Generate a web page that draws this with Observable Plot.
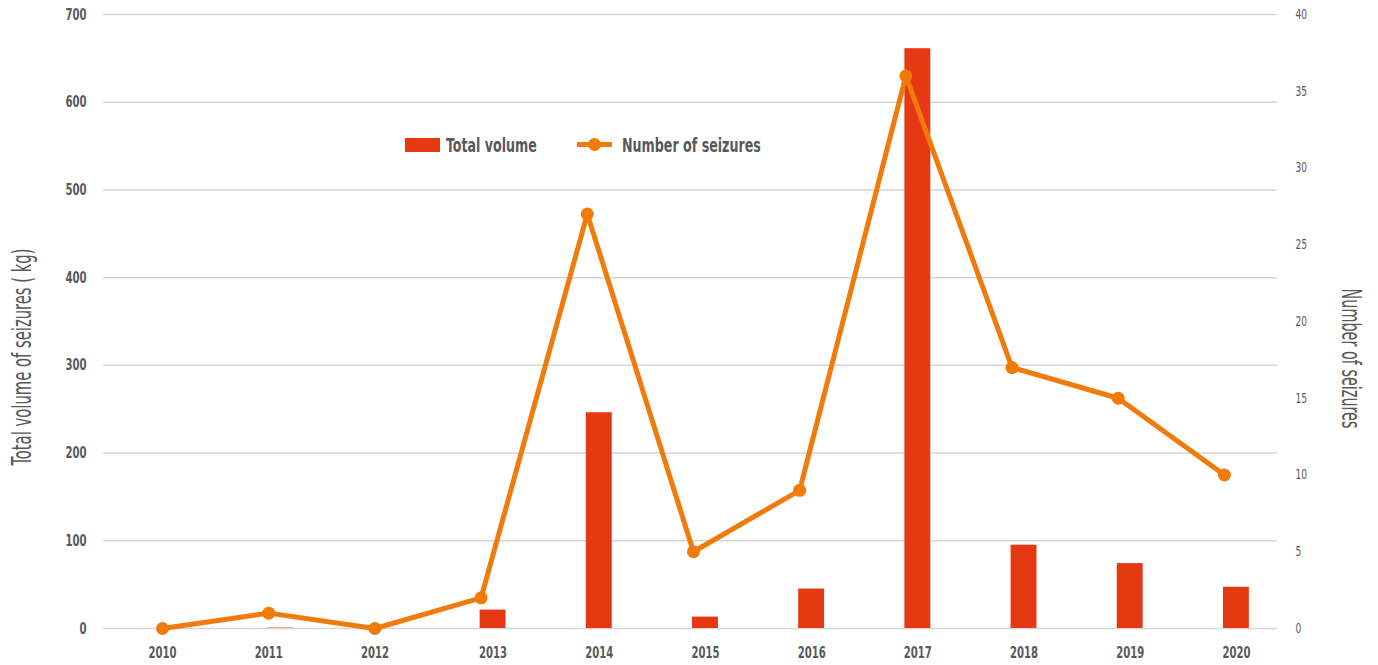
<!DOCTYPE html>
<html>
<head>
<meta charset="utf-8">
<script src="https://cdn.jsdelivr.net/npm/d3@7"></script>
<script src="https://cdn.jsdelivr.net/npm/@observablehq/plot@0.6"></script>
<style>
  html, body { margin: 0; padding: 0; background: #fff; }
  #wrap { position: relative; width: 1378px; height: 665px; }
  .legend { position: absolute; top: 0; left: 0; font-family: "DejaVu Sans Condensed", "DejaVu Sans", sans-serif;
    font-stretch: condensed; font-size: 19px; font-weight: bold; color: #595959; }
  .legend .lbl { position: absolute; top: 134px; white-space: nowrap; transform-origin: 0 50%; transform: scaleX(0.74); }
  .legend .sw-bar { position: absolute; left: 405px; top: 138px; width: 35px; height: 14px; background: #e63812; }
  .legend .sw-line { position: absolute; left: 577px; top: 142px; width: 35px; height: 5px; background: #f07a0a; }
  .legend .sw-dot { position: absolute; left: 588px; top: 138px; width: 13px; height: 13px; border-radius: 50%; background: #f07a0a; }
</style>
</head>
<body>
<div id="wrap"></div>
<script>
const years = [2010, 2011, 2012, 2013, 2014, 2015, 2016, 2017, 2018, 2019, 2020];
const volumeKg = [0, 0.5, 0, 21, 246, 13, 45, 661, 95, 74, 47];
const seizures = [0, 1, 0, 2, 27, 5, 9, 36, 17, 15, 10];
const leftTicks = [0, 100, 200, 300, 400, 500, 600, 700];
const rightTicks = [0, 5, 10, 15, 20, 25, 30, 35, 40];
const leftTitle = "Total volume of seizures ( kg)";
const rightTitle = "Number of seizures";
const legendLabels = ["Total volume", "Number of seizures"];

const leftMax = 700, rightMax = 40;
const k = leftMax / rightMax;
const barColor = "#e63812";
const lineColor = "#f07a0a";
const textColor = "#595959";
const font = '"DejaVu Sans Condensed", "DejaVu Sans", sans-serif';

const data = years.map((year, i) => ({year, volume: volumeKg[i], count: seizures[i]}));
// the original chart draws its bars (and most year labels) slightly right of the line's points
const barShift = 0.113;
const halfBar = 0.122;
const labelPos = y => (y >= 2013 ? y + barShift : y);

const chart = Plot.plot({
  width: 1378,
  height: 665,
  marginTop: 14,
  marginBottom: 37,
  marginLeft: 103,
  marginRight: 101,
  style: {fontFamily: font, color: textColor, background: "#fff"},
  x: {type: "linear", domain: [2009.444, 2020.5], axis: null},
  y: {domain: [0, leftMax], axis: null},
  marks: [
    Plot.gridY(leftTicks, {stroke: "#d6d6d6", strokeOpacity: 1, strokeWidth: 1.5}),
    Plot.axisY(leftTicks, {anchor: "left", tickSize: 0, tickPadding: 17, fontSize: 16, fontWeight: "bold", fill: textColor, label: null, className: "tk-left"}),
    Plot.axisY(rightTicks.map(v => v * k), {anchor: "right", tickSize: 0, tickPadding: 18, fontSize: 14, fill: textColor, tickFormat: v => String(Math.round(v / k)), label: null, className: "tk-right"}),
    Plot.text(years, {x: labelPos, frameAnchor: "bottom", lineAnchor: "middle", dy: 24, fontSize: 16, fontWeight: "bold", fill: textColor, text: d => String(d), className: "tk-x"}),
    Plot.rectY(data, {x1: d => d.year + barShift - halfBar, x2: d => d.year + barShift + halfBar, y1: 0, y2: "volume", fill: barColor}),
    Plot.line(data, {x: "year", y: d => d.count * k, stroke: lineColor, strokeWidth: 5, strokeLinejoin: "round"}),
    Plot.dot(data, {x: "year", y: d => d.count * k, r: 6.5, fill: lineColor}),
    Plot.text([leftTitle], {frameAnchor: "left", textAnchor: "start", dx: -81, dy: 144, rotate: -90, fontSize: 26, fill: textColor, text: d => d, className: "ttl-left"}),
    Plot.text([rightTitle], {frameAnchor: "right", textAnchor: "start", dx: 73, dy: -33, rotate: 90, fontSize: 26, fill: textColor, text: d => d, className: "ttl-right"})
  ]
});

const wrap = document.getElementById("wrap");
wrap.appendChild(chart);

function squeeze(selector, factor, fixed) {
  chart.querySelectorAll(selector).forEach(t => {
    const L = t.getComputedTextLength();
    t.setAttribute("textLength", fixed ? fixed : L * factor);
    t.setAttribute("lengthAdjust", "spacingAndGlyphs");
  });
}
squeeze(".tk-left text", 0.7);
squeeze(".tk-right text", 0.72);
squeeze(".tk-x text", 0.7);
squeeze(".ttl-left text", 0, 217);
squeeze(".ttl-right text", 0, 140);

const legend = document.createElement("div");
legend.className = "legend";
legend.innerHTML = `<span class="sw-bar"></span><span class="lbl" style="left:446px">${legendLabels[0]}</span>
<span class="sw-line"></span><span class="sw-dot"></span><span class="lbl" style="left:622px">${legendLabels[1]}</span>`;
wrap.appendChild(legend);
</script>
</body>
</html>
